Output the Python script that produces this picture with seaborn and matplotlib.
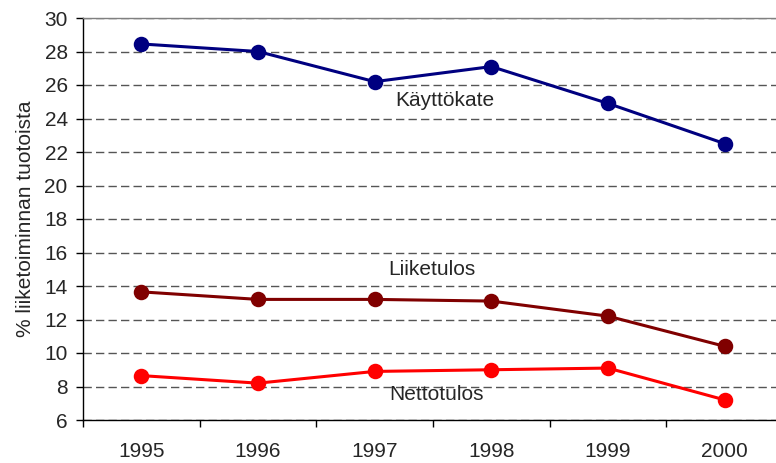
import matplotlib
matplotlib.use("Agg")
import matplotlib.pyplot as plt
from matplotlib.ticker import FixedLocator
import pandas as pd
import seaborn as sns

# ==========================
# Data
# ==========================

years = ["1995", "1996", "1997", "1998", "1999", "2000"]
kayttokate = [28.45, 28.0, 26.2, 27.1, 24.9, 22.5]
liiketulos = [13.65, 13.2, 13.2, 13.1, 12.2, 10.4]
nettotulos = [8.65, 8.2, 8.9, 9.0, 9.1, 7.2]
series_names = ["Käyttökate", "Liiketulos", "Nettotulos"]
colors = ["#000080", "#800000", "#FF0000"]

df = pd.DataFrame({
    "year": years * 3,
    "value": kayttokate + liiketulos + nettotulos,
    "series": [s for s in series_names for _ in years],
})

# ==========================
# Plot
# ==========================

sns.set_style("white")
plt.rcParams["font.family"] = ["Liberation Sans", "DejaVu Sans"]
FS = 15

fig = plt.figure(figsize=(7.76, 4.63), dpi=100)
ax = fig.add_axes([83 / 776, 1 - 420 / 463, 700 / 776, 402 / 463])

sns.pointplot(
    data=df,
    x="year",
    y="value",
    hue="series",
    palette=dict(zip(series_names, colors)),
    markers="o",
    markersize=9.5,
    linewidth=2.2,
    errorbar=None,
    legend=False,
    ax=ax,
)

ax.set_xlim(-0.5, 5.5)
ax.set_ylim(6, 30)
ax.set_yticks(range(6, 31, 2))
ax.xaxis.set_minor_locator(FixedLocator([i - 0.5 for i in range(7)]))
ax.tick_params(axis="x", which="major", length=0, labelsize=FS, pad=16)
ax.tick_params(axis="x", which="minor", length=5, width=1, direction="out",
               color="black", bottom=True)
ax.tick_params(axis="y", length=5, width=1, direction="out", color="black",
               left=True, labelsize=FS, pad=6)

ax.yaxis.grid(True, linestyle=(0, (6, 3)), color="#555555", linewidth=1)
ax.set_axisbelow(True)

ax.spines["left"].set_color("black")
ax.spines["bottom"].set_color("black")
ax.spines["top"].set_color("#808080")
ax.spines["right"].set_visible(False)
for side in ["left", "bottom", "top"]:
    ax.spines[side].set_linewidth(1)

ax.set_xlabel("")
ax.set_ylabel("% liiketoiminnan tuotoista", fontsize=FS, labelpad=7)

# series labels
ax.text(2.6, 25.1, "Käyttökate", fontsize=FS, ha="center", va="center")
ax.text(2.49, 15.0, "Liiketulos", fontsize=FS, ha="center", va="center")
ax.text(2.53, 7.5, "Nettotulos", fontsize=FS, ha="center", va="center")

fig.savefig("out.png", dpi=100)
plt.close(fig)
